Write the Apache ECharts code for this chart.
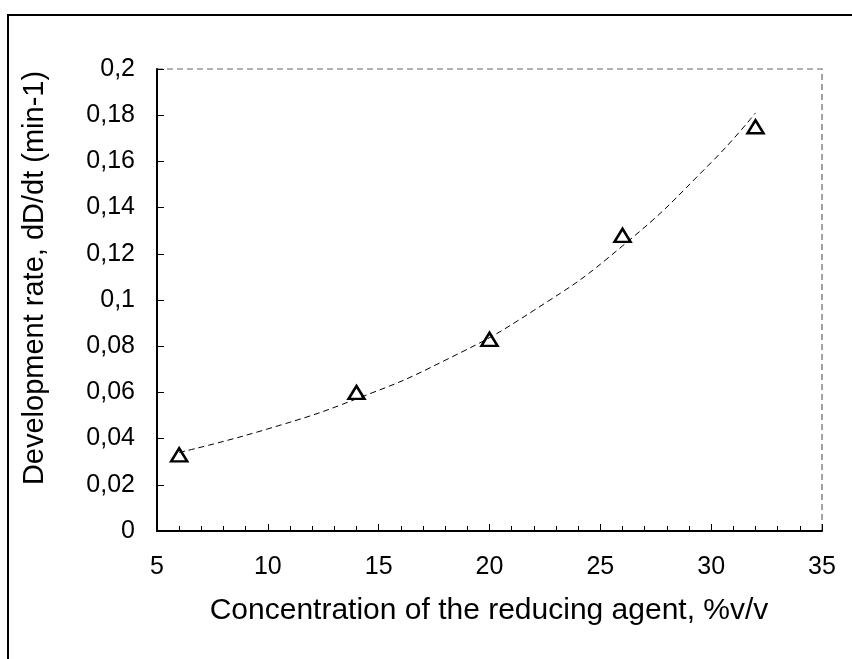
<!DOCTYPE html>
<html>
<head>
<meta charset="utf-8">
<script src="https://cdn.jsdelivr.net/npm/echarts@6/dist/echarts.min.js"></script>
<style>html,body{margin:0;padding:0;background:#fff}#c{width:852px;height:659px}</style>
</head>
<body>
<div id="c"></div>
<script>
var concentration = [6, 14, 20, 26, 32];
var rate = [0.033, 0.060, 0.083, 0.128, 0.175];
var trendX = [6, 10, 14, 18, 22, 26, 30, 32];
var trendY = [0.034, 0.0442, 0.0572, 0.0739, 0.0955, 0.1234, 0.1595, 0.181];
var xTitle = 'Concentration of the reducing agent, %v/v';
var yTitle = 'Development rate, dD/dt (min-1)';

var chart = echarts.init(document.getElementById('c'));
var font = 'Liberation Sans, Arial, sans-serif';
chart.setOption({
  animation: false,
  backgroundColor: '#fff',
  grid: {left: 157, right: 30, top: 69, bottom: 128, show: true, borderColor: '#666', borderWidth: 1.2, borderType: [6, 4], backgroundColor: 'transparent'},
  xAxis: {
    type: 'value', min: 5, max: 35, interval: 5,
    axisLine: {show: true, onZero: false, lineStyle: {color: '#000', width: 2}},
    axisTick: {show: true, inside: true, length: 7, lineStyle: {color: '#000', width: 1}},
    minorTick: {show: true, splitNumber: 5, length: 5, lineStyle: {color: '#000', width: 1}},
    axisLabel: {margin: 24, fontSize: 25, color: '#000', fontFamily: font},
    splitLine: {show: false}
  },
  yAxis: {
    type: 'value', min: 0, max: 0.2, interval: 0.02,
    axisLine: {show: true, lineStyle: {color: '#000', width: 2}},
    axisTick: {show: true, inside: true, length: 7, lineStyle: {color: '#000', width: 1}},
    axisLabel: {margin: 22, fontSize: 25, color: '#000', fontFamily: font,
      formatter: function (v) { return String(+v.toFixed(2)).replace('.', ','); }},
    splitLine: {show: false}
  },
  series: [
    {
      type: 'line', smooth: true, showSymbol: false, silent: true,
      data: trendX.map(function (x, i) { return [x, trendY[i]]; }),
      lineStyle: {color: '#000', width: 1, type: [6, 4]}
    },
    {
      type: 'scatter', symbol: 'triangle', symbolSize: [16, 13],
      data: concentration.map(function (x, i) { return [x, rate[i]]; }),
      itemStyle: {color: '#fff', borderColor: '#000', borderWidth: 2.5, opacity: 1}
    }
  ],
  graphic: [
    {type: 'rect', shape: {x: 8, y: 15, width: 900, height: 700}, style: {fill: 'none', stroke: '#000', lineWidth: 2}, z: -1},
    {type: 'text', x: 489, y: 611, style: {text: xTitle, font: '30px ' + font, fill: '#000', textAlign: 'center', textVerticalAlign: 'middle'}},
    {type: 'text', x: 35, y: 278, rotation: Math.PI / 2, style: {text: yTitle, font: '29px ' + font, fill: '#000', textAlign: 'center', textVerticalAlign: 'middle'}}
  ]
});
</script>
</body>
</html>
